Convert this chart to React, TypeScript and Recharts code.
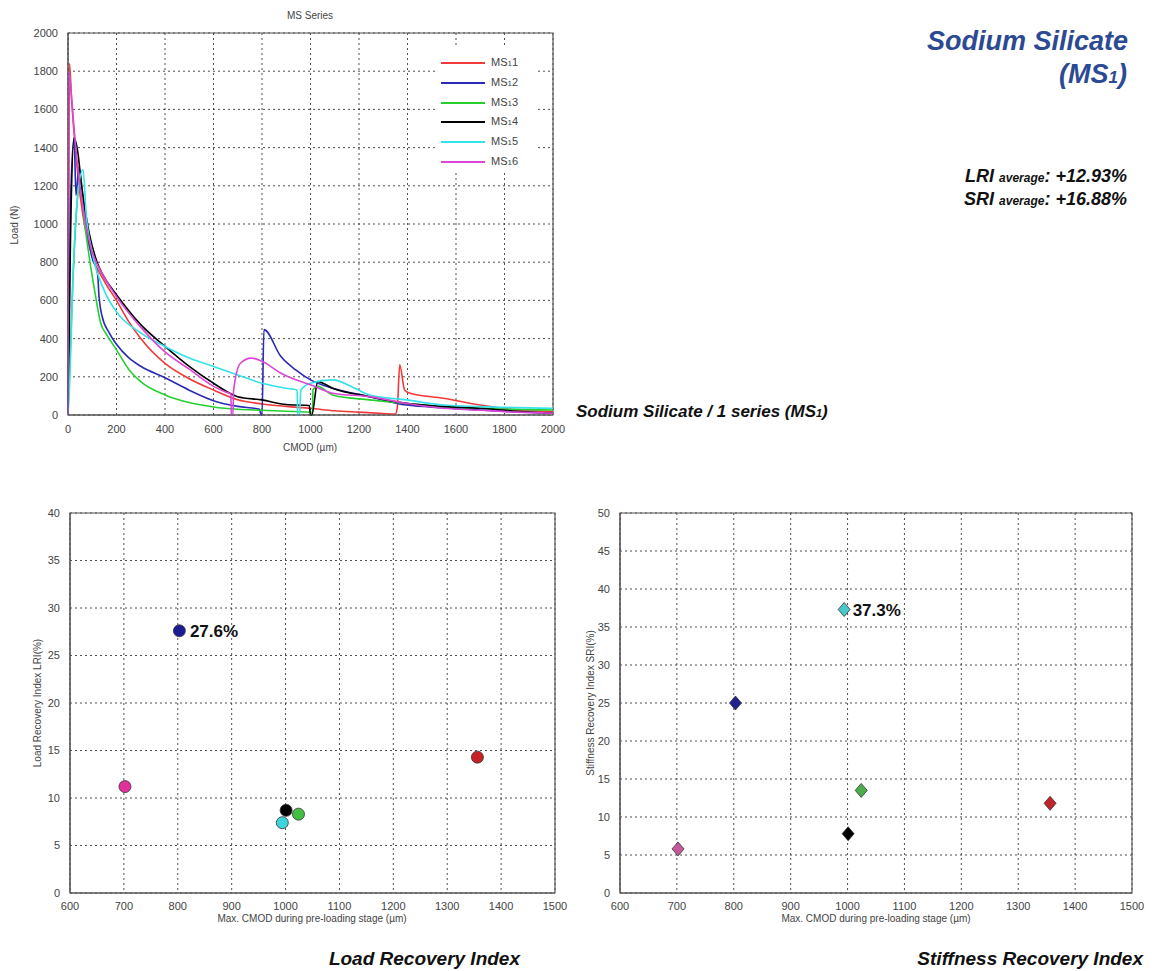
import React from 'react'
import {
  LineChart, Line, ScatterChart, Scatter, XAxis, YAxis, CartesianGrid, ReferenceArea, Cell, LabelList,
} from 'recharts'

// MS series: load vs CMOD curves, [CMOD (µm), load (N)]
const ms1 = [[0, 0], [3, 1000], [6, 1840], [15, 1650], [30, 1400], [50, 1150], [75, 950], [100, 830], [150, 700], [200, 600], [250, 490], [300, 400], [400, 270], [500, 190], [600, 131], [700, 80], [800, 58], [900, 45], [1000, 35], [1100, 22], [1200, 15], [1300, 8], [1350, 5], [1358, 40], [1368, 263], [1388, 131], [1411, 114], [1548, 88], [1700, 52], [1852, 26], [2000, 18]]
const ms2 = [[0, 0], [10, 1100], [25, 1450], [33, 1150], [45, 1300], [60, 1150], [80, 950], [100, 820], [122, 740], [128, 620], [140, 520], [170, 430], [200, 370], [250, 300], [300, 255], [400, 195], [500, 130], [600, 75], [700, 45], [790, 30], [796, 0], [800, 0], [808, 447], [878, 306], [939, 236], [1000, 184], [1091, 140], [1243, 96], [1396, 52], [1550, 38], [1700, 26], [1850, 16], [2000, 9]]
const ms3 = [[0, 0], [20, 700], [40, 1150], [52, 1250], [65, 1050], [85, 850], [110, 650], [135, 480], [160, 420], [200, 341], [250, 240], [300, 175], [400, 105], [500, 65], [600, 42], [700, 30], [800, 25], [900, 20], [1000, 15], [1004, 0], [1008, 0], [1010, 131], [1030, 150], [1091, 105], [1243, 79], [1400, 60], [1548, 44], [1700, 35], [2000, 26]]
const ms4 = [[0, 0], [10, 900], [25, 1450], [40, 1380], [56, 1200], [87, 955], [120, 800], [150, 720], [200, 630], [300, 473], [400, 359], [500, 254], [600, 166], [700, 96], [800, 79], [900, 55], [995, 50], [1000, 0], [1005, 0], [1030, 175], [1091, 140], [1243, 96], [1396, 61], [1550, 45], [1700, 35], [1850, 20], [2000, 9]]
const ms5 = [[0, 0], [8, 200], [20, 700], [40, 1150], [62, 1285], [75, 1050], [100, 850], [150, 650], [200, 540], [300, 430], [400, 359], [500, 298], [600, 254], [700, 210], [800, 166], [900, 140], [945, 131], [947, 0], [955, 0], [960, 130], [1000, 166], [1091, 184], [1183, 140], [1243, 105], [1396, 79], [1548, 52], [1700, 44], [2000, 35]]
const ms6 = [[0, 0], [2, 1000], [4, 1800], [12, 1700], [25, 1500], [40, 1300], [60, 1100], [90, 900], [150, 720], [200, 620], [300, 460], [400, 330], [500, 240], [600, 150], [650, 120], [672, 110], [673, 0], [680, 0], [683, 130], [711, 271], [756, 298], [802, 280], [878, 219], [939, 184], [1000, 158], [1091, 114], [1243, 96], [1400, 60], [1548, 35], [1700, 25], [1850, 15], [2000, 9]]

const seriesNames = ['MS₁1', 'MS₁2', 'MS₁3', 'MS₁4', 'MS₁5', 'MS₁6']
const curves = [ms1, ms2, ms3, ms4, ms5, ms6]
const cmodTicks = [0, 200, 400, 600, 800, 1000, 1200, 1400, 1600, 1800, 2000]
const loadTicks = [0, 200, 400, 600, 800, 1000, 1200, 1400, 1600, 1800, 2000]

// recovery indices per specimen (same order as seriesNames)
const preCmod = [1356, 803, 1024, 1001, 994, 702]
const lri = [14.3, 27.6, 8.3, 8.7, 7.4, 11.2]
const sri = [11.8, 25.0, 13.5, 7.8, 37.3, 5.8]
const lriNotes = ['', '27.6%', '', '', '', '']
const sriNotes = ['', '', '', '', '37.3%', '']
const preTicks = [600, 700, 800, 900, 1000, 1100, 1200, 1300, 1400, 1500]
const lriTicks = [0, 5, 10, 15, 20, 25, 30, 35, 40]
const sriTicks = [0, 5, 10, 15, 20, 25, 30, 35, 40, 45, 50]

const LINE_COLORS = ['#f03a3a', '#2a2ab4', '#24d030', '#000000', '#33e2ea', '#dc46d6']
const LRI_COLORS = ['#c62226', '#1c1c92', '#42c042', '#000000', '#3ed4dc', '#e0309a']
const SRI_COLORS = ['#c0242c', '#20208e', '#4aae4a', '#000000', '#48c8c8', '#c45a9c']

const FONT = '"Liberation Sans", Arial, sans-serif'
const GRID = '#222'
const AXIS = '#555'
const tickStyle = { fontSize: 11, fill: '#444', fontFamily: FONT }

const lriData = preCmod.map((x, i) => ({ x, y: lri[i], note: lriNotes[i] }))
const sriData = preCmod.map((x, i) => ({ x, y: sri[i], note: sriNotes[i] }))

type TxtProps = { x: number; y: number; anchor?: 'middle' | 'end' | 'start'; rotate?: boolean; style?: React.CSSProperties; children: React.ReactNode }
function Txt({ x, y, anchor = 'middle', rotate, style, children }: TxtProps) {
  const tx = anchor === 'middle' ? '-50%' : anchor === 'end' ? '-100%' : '0'
  return (
    <div style={{
      position: 'absolute', left: x, top: y, whiteSpace: 'nowrap', lineHeight: 1,
      transform: `translate(${tx}, -50%)${rotate ? ' rotate(-90deg)' : ''}`,
      transformOrigin: anchor === 'middle' ? 'center' : undefined,
      ...style,
    }}>{children}</div>
  )
}

const circleShape = (p: any) => (
  <circle cx={p.cx} cy={p.cy} r={6} fill={p.fill} stroke="#333" strokeWidth={0.8} />
)
const diamondShape = (p: any) => (
  <polygon
    points={`${p.cx},${p.cy - 7} ${p.cx + 6},${p.cy} ${p.cx},${p.cy + 7} ${p.cx - 6},${p.cy}`}
    fill={p.fill} stroke="#333" strokeWidth={0.8}
  />
)
const noteStyle = { fontSize: 17, fontWeight: 700, fill: '#111', fontFamily: '"Liberation Sans Narrow", "Liberation Sans", sans-serif' }

function RecoveryChart({ data, colors, ticks, max, diamond }: { data: typeof lriData; colors: string[]; ticks: number[]; max: number; diamond?: boolean }) {
  return (
    <ScatterChart width={diamond ? 590 : 570} height={460} margin={{ top: 33, right: diamond ? 18 : 15, bottom: 17, left: diamond ? 0 : 10 }}>
      <CartesianGrid stroke={GRID} strokeDasharray="2 3" strokeWidth={0.8} />
      <XAxis type="number" dataKey="x" domain={[600, 1500]} ticks={preTicks} interval={0} height={30}
        tickLine={false} axisLine={{ stroke: AXIS }} tick={tickStyle} tickMargin={3} />
      <YAxis type="number" dataKey="y" domain={[0, max]} ticks={ticks} interval={0} width={60}
        tickLine={false} axisLine={{ stroke: AXIS }} tick={tickStyle} tickMargin={4} />
      <ReferenceArea x1={600} x2={1500} y1={0} y2={max} fill="none" stroke={AXIS} strokeWidth={1.2} />
      <Scatter data={data} shape={diamond ? diamondShape : circleShape} isAnimationActive={false}>
        {data.map((_, i) => <Cell key={i} fill={colors[i]} />)}
        <LabelList dataKey="note" position="right" offset={diamond ? 4 : 6} style={noteStyle} />
      </Scatter>
    </ScatterChart>
  )
}

export default function App() {
  const small = { fontSize: 10, color: '#444', fontFamily: FONT }
  const bigItalic = { fontFamily: FONT, fontWeight: 700, fontStyle: 'italic' as const, color: '#111' }
  return (
    <div style={{ position: 'absolute', left: 0, top: 0, width: 1152, height: 971, background: '#fff', fontFamily: FONT }}>
      <div style={{ position: 'absolute', left: 0, top: 0 }}>
        <LineChart width={575} height={460} margin={{ top: 33, right: 22, bottom: 0, left: 10 }}>
          <CartesianGrid stroke={GRID} strokeDasharray="2 3" strokeWidth={0.8} />
          <XAxis type="number" dataKey="x" domain={[0, 2000]} ticks={cmodTicks} interval={0} height={45}
            tickLine={false} axisLine={{ stroke: AXIS }} tick={tickStyle} tickMargin={4} />
          <YAxis type="number" domain={[0, 2000]} ticks={loadTicks} interval={0} width={58}
            tickLine={false} axisLine={{ stroke: AXIS }} tick={tickStyle} tickMargin={4} />
          <ReferenceArea x1={0} x2={2000} y1={0} y2={2000} fill="none" stroke={AXIS} strokeWidth={1.2} />
          {curves.map((c, i) => (
            <Line key={seriesNames[i]} type="monotone" data={c.map(([x, y]) => ({ x, y }))} dataKey="y" name={seriesNames[i]}
              stroke={LINE_COLORS[i]} strokeWidth={1.6} dot={false} isAnimationActive={false} />
          ))}
        </LineChart>
      </div>

      {/* legend of the load curves */}
      <div style={{ position: 'absolute', left: 437, top: 47, width: 100, height: 124, background: '#fff' }}>
        {seriesNames.map((n, i) => (
          <div key={n} style={{ position: 'absolute', left: 4, top: 9 + i * 19.8, display: 'flex', alignItems: 'center' }}>
            <div style={{ width: 44, height: 2, background: LINE_COLORS[i] }} />
            <span style={{ marginLeft: 6, fontSize: 11, color: '#444', lineHeight: '12px' }}>
              MS<span style={{ fontSize: 8 }}>1</span>{n.slice(3)}
            </span>
          </div>
        ))}
      </div>

      <Txt x={310} y={16} style={small}>MS Series</Txt>
      <Txt x={15} y={225} rotate style={small}>Load (N)</Txt>
      <Txt x={310} y={448} style={small}>CMOD (µm)</Txt>
      <Txt x={576} y={411} anchor="start" style={{ ...bigItalic, fontSize: 17 }}>
        Sodium Silicate / 1 series (MS<span style={{ fontSize: 11 }}>1</span>)
      </Txt>

      <Txt x={1128} y={41} anchor="end" style={{ ...bigItalic, fontSize: 27, color: '#2c4a93' }}>Sodium Silicate</Txt>
      <Txt x={1127} y={74} anchor="end" style={{ ...bigItalic, fontSize: 27, color: '#2c4a93' }}>
        (MS<span style={{ fontSize: 17 }}>1</span>)
      </Txt>
      <Txt x={1127} y={176} anchor="end" style={{ ...bigItalic, fontSize: 18 }}>
        LRI <span style={{ fontSize: 12 }}>average</span>: +12.93%
      </Txt>
      <Txt x={1127} y={199} anchor="end" style={{ ...bigItalic, fontSize: 18 }}>
        SRI <span style={{ fontSize: 12 }}>average</span>: +16.88%
      </Txt>

      <div style={{ position: 'absolute', left: 0, top: 480 }}>
        <RecoveryChart data={lriData} colors={LRI_COLORS} ticks={lriTicks} max={40} />
      </div>
      <div style={{ position: 'absolute', left: 560, top: 480 }}>
        <RecoveryChart data={sriData} colors={SRI_COLORS} ticks={sriTicks} max={50} diamond />
      </div>

      <Txt x={38} y={703} rotate style={small}>Load Recovery Index LRI(%)</Txt>
      <Txt x={312} y={919} style={small}>Max. CMOD during pre-loading stage (µm)</Txt>
      <Txt x={591} y={703} rotate style={small}>Stiffness Recovery Index SRI(%)</Txt>
      <Txt x={876} y={919} style={small}>Max. CMOD during pre-loading stage (µm)</Txt>

      <Txt x={520} y={958} anchor="end" style={{ ...bigItalic, fontSize: 19 }}>Load Recovery Index</Txt>
      <Txt x={1143} y={958} anchor="end" style={{ ...bigItalic, fontSize: 19 }}>Stiffness Recovery Index</Txt>
    </div>
  )
}
